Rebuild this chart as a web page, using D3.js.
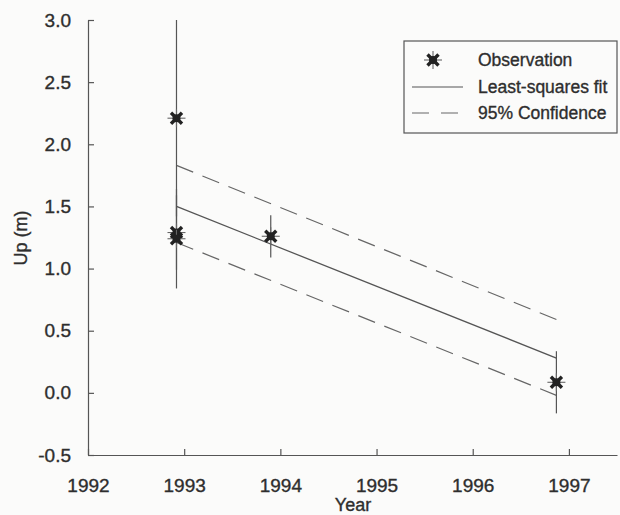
<!DOCTYPE html>
<html>
<head>
<meta charset="utf-8">
<script src="https://cdn.jsdelivr.net/npm/d3@7"></script>
<style>
  body { margin: 0; background: #fbfbfa; }
  text {
    font-family: "Liberation Sans", Arial, sans-serif;
    fill: #2e2e2e;
    stroke: #2e2e2e;
    stroke-width: 0.35px;
  }
</style>
</head>
<body>
<script>
// data
const yearTicks = [1992, 1993, 1994, 1995, 1996, 1997];
const upTicks = [-0.5, 0.0, 0.5, 1.0, 1.5, 2.0, 2.5, 3.0];

const obsYear = [1992.92, 1992.92, 1992.92, 1993.9, 1996.87];
const obsUp = [2.21, 1.29, 1.24, 1.26, 0.085];
const obsErr = [0.79, 0.3, 0.4, 0.17, 0.25];

const fitYear = [1992.92, 1996.87];
const fitUp = [1.5, 0.28];
const upperUp = [1.83, 0.59];
const lowerUp = [1.21, -0.02];

const legendLabels = ["Observation", "Least-squares fit", "95% Confidence"];

const width = 620;
const height = 515;

const svg = d3
  .select("body")
  .append("svg")
  .attr("width", width)
  .attr("height", height);

const x = d3.scaleLinear().domain([1992, 1997.5]).range([88, 617]);
const y = d3.scaleLinear().domain([-0.5, 3.0]).range([455, 20]);

// Axes

const xAxis = d3
  .axisBottom(x)
  .tickValues(yearTicks)
  .tickFormat((d) => d)
  .tickSizeInner(-6)
  .tickSizeOuter(0)
  .tickPadding(24);

const yAxis = d3
  .axisLeft(y)
  .tickValues(upTicks)
  .tickFormat((d) => d.toFixed(1))
  .tickSizeInner(-6)
  .tickSizeOuter(0)
  .tickPadding(17);

const gx = svg
  .append("g")
  .attr("transform", `translate(0, ${y(-0.5)})`)
  .call(xAxis);

const gy = svg
  .append("g")
  .attr("transform", `translate(${x(1992)}, 0)`)
  .call(yAxis);

[gx, gy].forEach((g) => {
  g.selectAll("path, line").attr("stroke", "#555").attr("stroke-width", 1.2);
  g.selectAll("text").style("font-size", "19px").attr("fill", "#2e2e2e");
});

svg
  .append("text")
  .attr("x", 353)
  .attr("y", 511)
  .attr("text-anchor", "middle")
  .style("font-size", "18px")
  .text("Year");

svg
  .append("text")
  .attr("transform", "translate(27, 238) rotate(-90)")
  .attr("text-anchor", "middle")
  .style("font-size", "18px")
  .text("Up (m)");

// Fit and confidence lines

const line = d3
  .line()
  .x((d) => x(d[0]))
  .y((d) => y(d[1]));

svg
  .append("path")
  .attr("d", line(d3.zip(fitYear, upperUp)))
  .attr("fill", "none")
  .attr("stroke", "#666")
  .attr("stroke-width", 1.2)
  .attr("stroke-dasharray", "18,10");

svg
  .append("path")
  .attr("d", line(d3.zip(fitYear, lowerUp)))
  .attr("fill", "none")
  .attr("stroke", "#666")
  .attr("stroke-width", 1.2)
  .attr("stroke-dasharray", "18,10");

svg
  .append("path")
  .attr("d", line(d3.zip(fitYear, fitUp)))
  .attr("fill", "none")
  .attr("stroke", "#555")
  .attr("stroke-width", 1.3);

// Error bars

svg
  .append("g")
  .selectAll("line")
  .data(obsYear.map((d, i) => i))
  .join("line")
  .attr("x1", (i) => x(obsYear[i]))
  .attr("x2", (i) => x(obsYear[i]))
  .attr("y1", (i) => y(Math.min(3, obsUp[i] + obsErr[i])))
  .attr("y2", (i) => y(obsUp[i] - obsErr[i]))
  .attr("stroke", "#555")
  .attr("stroke-width", 1.2);

// Star markers

function drawStar(g) {
  g.append("line")
    .attr("x1", -9).attr("x2", 9)
    .attr("stroke", "#666").attr("stroke-width", 1.1);
  g.append("line")
    .attr("y1", -9).attr("y2", 9)
    .attr("stroke", "#666").attr("stroke-width", 1.1);
  g.append("line")
    .attr("x1", -5.5).attr("y1", -5.5).attr("x2", 5.5).attr("y2", 5.5)
    .attr("stroke", "#222").attr("stroke-width", 3.4);
  g.append("line")
    .attr("x1", -5.5).attr("y1", 5.5).attr("x2", 5.5).attr("y2", -5.5)
    .attr("stroke", "#222").attr("stroke-width", 3.4);
  g.append("circle").attr("r", 4).attr("fill", "#222");
}

svg
  .append("g")
  .selectAll("g")
  .data(obsYear.map((d, i) => i))
  .join("g")
  .attr("transform", (i) => `translate(${x(obsYear[i])}, ${y(obsUp[i])})`)
  .each(function () {
    drawStar(d3.select(this));
  });

// Legend

const legend = svg.append("g").attr("transform", "translate(404, 41)");

legend
  .append("rect")
  .attr("width", 213)
  .attr("height", 92)
  .attr("fill", "none")
  .attr("stroke", "#555")
  .attr("stroke-width", 1.2);

const rowY = [19, 46, 72];

drawStar(legend.append("g").attr("transform", `translate(29, ${rowY[0]})`));

legend
  .append("line")
  .attr("x1", 8).attr("x2", 59)
  .attr("y1", rowY[1]).attr("y2", rowY[1])
  .attr("stroke", "#555").attr("stroke-width", 1.2);

legend
  .append("line")
  .attr("x1", 8).attr("x2", 59)
  .attr("y1", rowY[2]).attr("y2", rowY[2])
  .attr("stroke", "#666").attr("stroke-width", 1.2)
  .attr("stroke-dasharray", "17,12");

legend
  .selectAll("text")
  .data(legendLabels)
  .join("text")
  .attr("x", 74)
  .attr("y", (d, i) => rowY[i] + 6)
  .style("font-size", "17.5px")
  .text((d) => d);
</script>
</body>
</html>
